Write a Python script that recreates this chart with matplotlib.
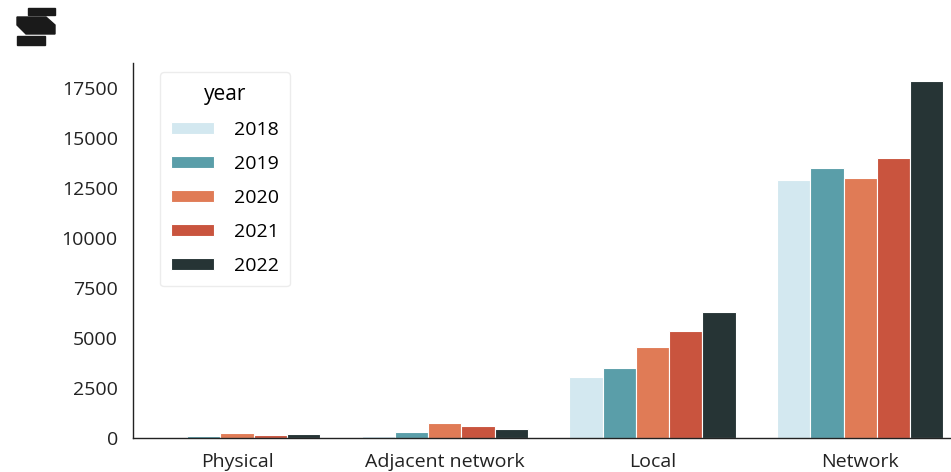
import matplotlib
matplotlib.use("Agg")
import matplotlib.pyplot as plt
import numpy as np
from matplotlib.patches import Rectangle, Polygon

categories = ["Physical", "Adjacent network", "Local", "Network"]
years = ["2018", "2019", "2020", "2021", "2022"]
counts_2018 = [40, 120, 3050, 12900]
counts_2019 = [100, 300, 3520, 13520]
counts_2020 = [260, 760, 4570, 13000]
counts_2021 = [150, 580, 5370, 13980]
counts_2022 = [200, 470, 6320, 17870]
colors = ["#d3e8f0", "#5a9ea9", "#e07b56", "#c9543e", "#263435"]

plt.rcParams["font.family"] = ["Open Sans", "DejaVu Sans"]

fig = plt.figure(figsize=(9.51, 4.72), dpi=100)
ax = fig.add_axes([0.1399, 0.072, 0.874, 0.7945])

series = [counts_2018, counts_2019, counts_2020, counts_2021, counts_2022]
x = np.arange(len(categories))
width = 0.8 / len(years)
for i, (yr, vals) in enumerate(zip(years, series)):
    offs = (i - 2) * width
    ax.bar(x + offs, vals, width=width, color=colors[i], label=yr,
           edgecolor="white", linewidth=0.8)

ax.set_xlim(-0.5, 3.5)
ax.set_ylim(0, 18750)
ax.set_yticks(np.arange(0, 17501, 2500))
ax.set_xticks(x)
ax.set_xticklabels(categories)
ax.tick_params(axis="both", length=0, labelsize=14, colors="#222222")
ax.tick_params(axis="y", pad=11)
ax.tick_params(axis="x", pad=11)
for s in ["top", "right"]:
    ax.spines[s].set_visible(False)
for s in ["left", "bottom"]:
    ax.spines[s].set_color("#222222")
    ax.spines[s].set_linewidth(1.0)

leg = ax.legend(title="year", loc="upper left", bbox_to_anchor=(0.032, 0.975),
                borderaxespad=0, fontsize=14, title_fontsize=15,
                handlelength=2.2, handleheight=0.6, labelspacing=0.82,
                handletextpad=1.0, borderpad=0.6, frameon=True)
leg.get_frame().set_edgecolor("#e8e8e8")

# logo mark in the top-left corner
fig.patches.append(Rectangle((28 / 951, 1 - 15 / 472), 27 / 951, 7 / 472,
                             transform=fig.transFigure, color="#1a1a1a"))
fig.patches.append(Polygon([(17 / 951, 1 - 17 / 472), (46 / 951, 1 - 17 / 472),
                            (55 / 951, 1 - 25 / 472), (55 / 951, 1 - 34 / 472),
                            (26 / 951, 1 - 34 / 472), (17 / 951, 1 - 25 / 472)],
                           closed=True, transform=fig.transFigure, color="#1a1a1a"))
fig.patches.append(Rectangle((17 / 951, 1 - 45 / 472), 28 / 951, 9 / 472,
                             transform=fig.transFigure, color="#1a1a1a"))

fig.savefig("out.png", dpi=100)
